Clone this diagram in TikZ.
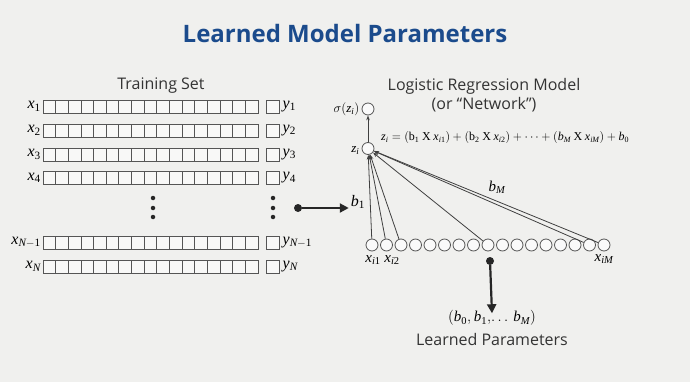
\documentclass[tikz,border=0pt]{standalone}
\usepackage{fix-cm}
\usepackage{mathspec}
\setmainfont{Open Sans}
\setmathsfont(Digits,Latin){Liberation Serif}
\setmathrm{Liberation Serif}
\usetikzlibrary{arrows.meta}
\definecolor{bg}{HTML}{F0F0EE}
\definecolor{ttl}{HTML}{1B4B8C}
\definecolor{ln}{HTML}{555555}
\tikzset{
  cell/.style  = {rectangle, draw=ln, line width=0.9pt, fill=white!55!bg, minimum width=12.65pt, minimum height=13pt, inner sep=0, outer sep=0},
  ybox/.style  = {rectangle, draw=ln, line width=0.9pt, fill=white!55!bg, minimum size=13pt, inner sep=0},
  unit/.style  = {circle, draw=ln, line width=0.8pt, fill=white!70!bg, minimum size=12pt, inner sep=0},
  dot/.style   = {circle, fill=black!85, minimum size=4.5pt, inner sep=0},
  bigdot/.style = {circle, fill=black!85, minimum size=8pt, inner sep=0},
  feed/.style  = {-{Stealth[length=5pt,width=3.5pt]}, line width=0.8pt, draw=black!75},
  push/.style  = {-{Triangle[length=9pt,width=9pt]}, line width=2.2pt, draw=black!85},
  lab/.style   = {font=\fontsize{16}{16}\selectfont, inner sep=1pt},
  sm/.style    = {font=\fontsize{13}{13}\selectfont, inner sep=1pt},
  head/.style  = {font=\fontsize{16}{19}\selectfont, text=black!80, align=center}
}
\begin{document}
\begin{tikzpicture}[x=1pt,y=-1pt]
  \fill[bg] (0,0) rectangle (690,382);
  \useasboundingbox (0,0) rectangle (690,382);

  \node[font=\bfseries\fontsize{24}{28}\selectfont, text=ttl] (title) at (345,34) {Learned Model Parameters};

  % training set
  \node[head] (ts) at (161,86) {Training Set};
  \foreach \r/\yy/\xl/\yl in {1/106.5/x_1/y_1, 2/130.5/x_2/y_2, 3/154.5/x_3/y_3, 4/178/x_4/y_4,
                              5/242.5/{x_{N-1}}/{y_{N-1}}, 6/266.5/x_N/y_N}{
    \foreach \c in {1,...,17}
      \node[cell] (r\r c\c) at ({43+12.65*(\c-0.5)},\yy) {};
    \node[ybox] (y\r) at (272.5,\yy) {};
    \node[lab, anchor=east] at ([xshift=-1pt]r\r c1.west) {$\xl$};
    \node[lab, anchor=west] at ([xshift=2pt]y\r.east) {$\yl$};
  }
  % dots
  \foreach \k/\yy in {1/198, 2/208, 3/217}{
    \node[dot] (dl\k) at (153,\yy) {};
    \node[dot] (dr\k) at (273,\yy) {};
  }

  % model
  \node[head] (lr) at (484,95) {Logistic Regression Model\\(or ``Network'')};
  \node[unit] (s) at (368,109) {};
  \node[unit] (z) at (368,148.5) {};
  \node[sm, anchor=east] at ([xshift=-1pt]s.west) {$\sigma(z_i)$};
  \node[sm, anchor=east] at ([xshift=-1pt,yshift=-2pt]z.west) {$z_i$};
  \draw[feed] (z) -- (s);
  \node[sm, font=\fontsize{12}{12}\selectfont, anchor=west] (eq) at (380,138) {$z_i = (\mathrm{b}_1 \mathbin{\mathrm{X}} x_{i1}) + (\mathrm{b}_2 \mathbin{\mathrm{X}} x_{i2}) + \cdots + (b_M \mathbin{\mathrm{X}} x_{iM}) + b_0$};

  \foreach \c in {1,...,17}
    \node[unit] (in\c) at ({372+14.5*(\c-1)},245) {};
  \foreach \c in {1,2,3,9,16,17}
    \draw[feed] (in\c) -- (z);
  \node[lab, font=\fontsize{15}{15}\selectfont] (bM) at (497,187) {$b_M$};
  \node[sm, font=\fontsize{15}{15}\selectfont] (xa) at (373,260) {$x_{i1}$};
  \node[sm, font=\fontsize{15}{15}\selectfont] (xb) at (392,260) {$x_{i2}$};
  \node[sm, font=\fontsize{15}{15}\selectfont] (xm) at (604,259) {$x_{iM}$};

  % training -> model
  \node[bigdot] (go) at (298,208) {};
  \node[lab] (b1) at (358,202) {$b_1$};
  \draw[push] (go) -- ([xshift=-1pt]b1.west |- go);

  % output
  \node[bigdot] (out) at (490,261) {};
  \node[sm, font=\fontsize{15}{15}\selectfont] (par) at (492,318) {$(b_0, b_1,\!\ldots\, b_M)$};
  \node[head] (lp) at (492,339) {Learned Parameters};
  \draw[push] (out) -- ([yshift=-4pt]par.north);
\end{tikzpicture}
\end{document}
